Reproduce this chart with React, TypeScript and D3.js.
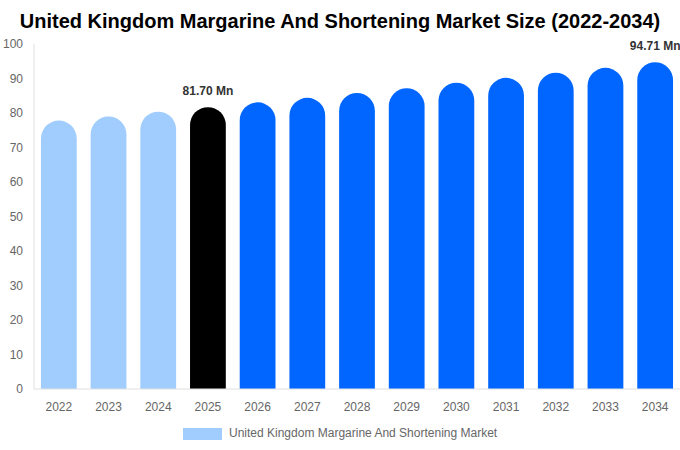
import React from 'react'
import * as d3 from 'd3'

const years = ['2022', '2023', '2024', '2025', '2026', '2027', '2028', '2029', '2030', '2031', '2032', '2033', '2034']
const values = [77.8, 79.0, 80.4, 81.7, 83.1, 84.4, 85.8, 87.2, 88.8, 90.2, 91.7, 93.1, 94.71]
const yTicks = [0, 10, 20, 30, 40, 50, 60, 70, 80, 90, 100]
// which bars carry a value label
const labelled: Record<string, string> = { '2025': '81.70 Mn', '2034': '94.71 Mn' }

const HISTORY = '#a0cdfd'
const CURRENT = '#000000'
const FORECAST = '#0066ff'

const W = 680
const H = 450
const font = '"Liberation Sans", Arial, sans-serif'

const barColor = (year: string) => {
  if (+year < 2025) return HISTORY
  if (+year === 2025) return CURRENT
  return FORECAST
}

// bar with a fully rounded top, flat bottom
const capsuleTop = (x: number, y: number, w: number, h: number) => {
  const r = Math.min(w / 2, h)
  return `M${x},${y + h}V${y + r}A${r},${r} 0 0 1 ${x + w},${y + r}V${y + h}Z`
}

const App: React.FC = () => {
  const left = 34
  const right = 680
  const top = 44
  const bottom = 389

  const xScale = d3.scaleBand<string>()
    .domain(years)
    .range([left, right])
    .paddingInner(0.28)
    .paddingOuter(0.14)

  const yScale = d3.scaleLinear()
    .domain([0, 100])
    .range([bottom, top])

  const bw = xScale.bandwidth()

  return (
    <svg width={W} height={H} style={{ position: 'absolute', left: 0, top: 0 }} fontFamily={font}>
      <rect width={W} height={H} fill="#fff" />

      {/* Title */}
      <text x={W / 2} y={28} textAnchor="middle" fontSize={20} fontWeight="bold" fill="#000">
        United Kingdom Margarine And Shortening Market Size (2022-2034)
      </text>

      {/* Y axis */}
      <line x1={left} x2={left} y1={top} y2={bottom} stroke="#e0e0e0" />
      {yTicks.map(t => (
        <text key={t} x={23} y={yScale(t)} dy="0.35em" textAnchor="end" fontSize={12} fill="#666">
          {t}
        </text>
      ))}

      {/* Bars */}
      {years.map((yr, i) => {
        const x = xScale(yr) || 0
        const y = yScale(values[i])
        return (
          <path key={yr} d={capsuleTop(x, y, bw, bottom - y)} fill={barColor(yr)} />
        )
      })}

      {/* Value labels */}
      {years.filter(yr => labelled[yr]).map(yr => {
        const i = years.indexOf(yr)
        return (
          <text key={yr} x={(xScale(yr) || 0) + bw / 2} y={yScale(values[i]) - 12}
            textAnchor="middle" fontSize={12} fontWeight="bold" fill="#333">
            {labelled[yr]}
          </text>
        )
      })}

      {/* X axis */}
      <line x1={left} x2={right} y1={bottom} y2={bottom} stroke="#e0e0e0" />
      {years.map(yr => (
        <text key={yr} x={(xScale(yr) || 0) + bw / 2} y={407} dy="0.35em" textAnchor="middle" fontSize={12} fill="#666">
          {yr}
        </text>
      ))}

      {/* Legend */}
      <rect x={183} y={428} width={39} height={12} fill={HISTORY} />
      <text x={229} y={433} dy="0.35em" fontSize={12} fill="#666">
        United Kingdom Margarine And Shortening Market
      </text>
    </svg>
  )
}

export default App
